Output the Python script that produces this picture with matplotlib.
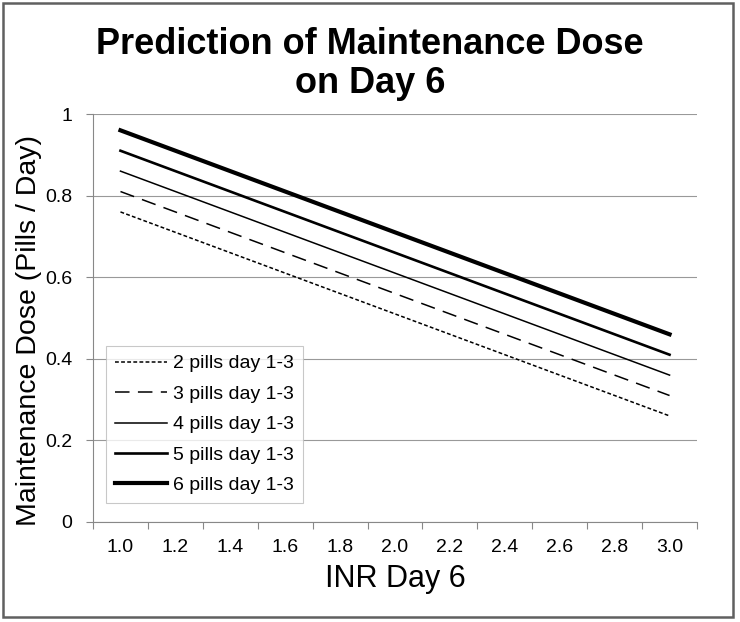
import matplotlib
matplotlib.use("Agg")
import matplotlib.pyplot as plt
from matplotlib.patches import Rectangle

plt.rcParams['font.family'] = ['Liberation Sans', 'DejaVu Sans']

# data
inr = ['1.0', '1.2', '1.4', '1.6', '1.8', '2.0', '2.2', '2.4', '2.6', '2.8', '3.0']
dose_2 = [0.76, 0.71, 0.66, 0.61, 0.56, 0.51, 0.46, 0.41, 0.36, 0.31, 0.26]
dose_3 = [0.81, 0.76, 0.71, 0.66, 0.61, 0.56, 0.51, 0.46, 0.41, 0.36, 0.31]
dose_4 = [0.86, 0.81, 0.76, 0.71, 0.66, 0.61, 0.56, 0.51, 0.46, 0.41, 0.36]
dose_5 = [0.91, 0.86, 0.81, 0.76, 0.71, 0.66, 0.61, 0.56, 0.51, 0.46, 0.41]
dose_6 = [0.96, 0.91, 0.86, 0.81, 0.76, 0.71, 0.66, 0.61, 0.56, 0.51, 0.46]
names = ['2 pills day 1-3', '3 pills day 1-3', '4 pills day 1-3',
         '5 pills day 1-3', '6 pills day 1-3']
y_ticks = [0, 0.2, 0.4, 0.6, 0.8, 1]
y_labels = ['0', '0.2', '0.4', '0.6', '0.8', '1']

fig = plt.figure(figsize=(7.4, 6.22), dpi=100)
ax = fig.add_axes([0.1257, 0.1608, 0.8162, 0.6559])

x = list(range(len(inr)))
ax.plot(x, dose_2, color='black', lw=1.1, dashes=(2.5, 1.5), label=names[0])
ax.plot(x, dose_3, color='black', lw=1.1, dashes=(9.5, 5.5), label=names[1])
ax.plot(x, dose_4, color='black', lw=1.1, label=names[2])
ax.plot(x, dose_5, color='black', lw=1.9, label=names[3])
ax.plot(x, dose_6, color='black', lw=3.0, label=names[4])

ax.set_xlim(-0.5, len(inr) - 0.5)
ax.set_ylim(0, 1)
ax.set_yticks(y_ticks)
ax.set_yticklabels(y_labels)
ax.set_xticks(x)
ax.set_xticklabels(inr)
ax.set_xticks([i - 0.5 for i in range(len(inr) + 1)], minor=True)
ax.tick_params(axis='x', which='major', length=0, labelsize=14, pad=12)
ax.tick_params(axis='x', which='minor', length=5, width=0.8, color='#888888')
ax.tick_params(axis='y', length=5, width=0.8, color='#888888', labelsize=14, pad=10)

ax.grid(axis='y', color='#999999', lw=0.8)
ax.set_axisbelow(True)
for s in ['top', 'right']:
    ax.spines[s].set_visible(False)
for s in ['left', 'bottom']:
    ax.spines[s].set_color('#888888')
    ax.spines[s].set_linewidth(0.8)

ax.set_xlabel('INR Day 6', fontsize=22, labelpad=6)
ax.set_ylabel('Maintenance Dose (Pills / Day)', fontsize=20.5)
ax.yaxis.set_label_coords(-0.084, 0.47)

leg = ax.legend(loc='lower left', bbox_to_anchor=(0.0215, 0.0466), borderaxespad=0,
                fontsize=14, frameon=True, fancybox=False, handlelength=2.7,
                handletextpad=0.3, labelspacing=0.66, borderpad=0.45)
leg.get_frame().set_edgecolor('#bbbbbb')
leg.get_frame().set_linewidth(0.8)

fig.text(0.5, 1 - 54 / 622, 'Prediction of Maintenance Dose', ha='center',
         va='baseline', fontsize=26, fontweight='bold')
fig.text(0.5, 1 - 93 / 622, 'on Day 6', ha='center', va='baseline',
         fontsize=26, fontweight='bold')

# outer frame of the chart
fig.patches.append(Rectangle((3 / 740, 5 / 622), 730 / 740, 614 / 622,
                             transform=fig.transFigure, fill=False,
                             edgecolor='#606060', lw=1.8))

plt.savefig('out.png', dpi=100)
